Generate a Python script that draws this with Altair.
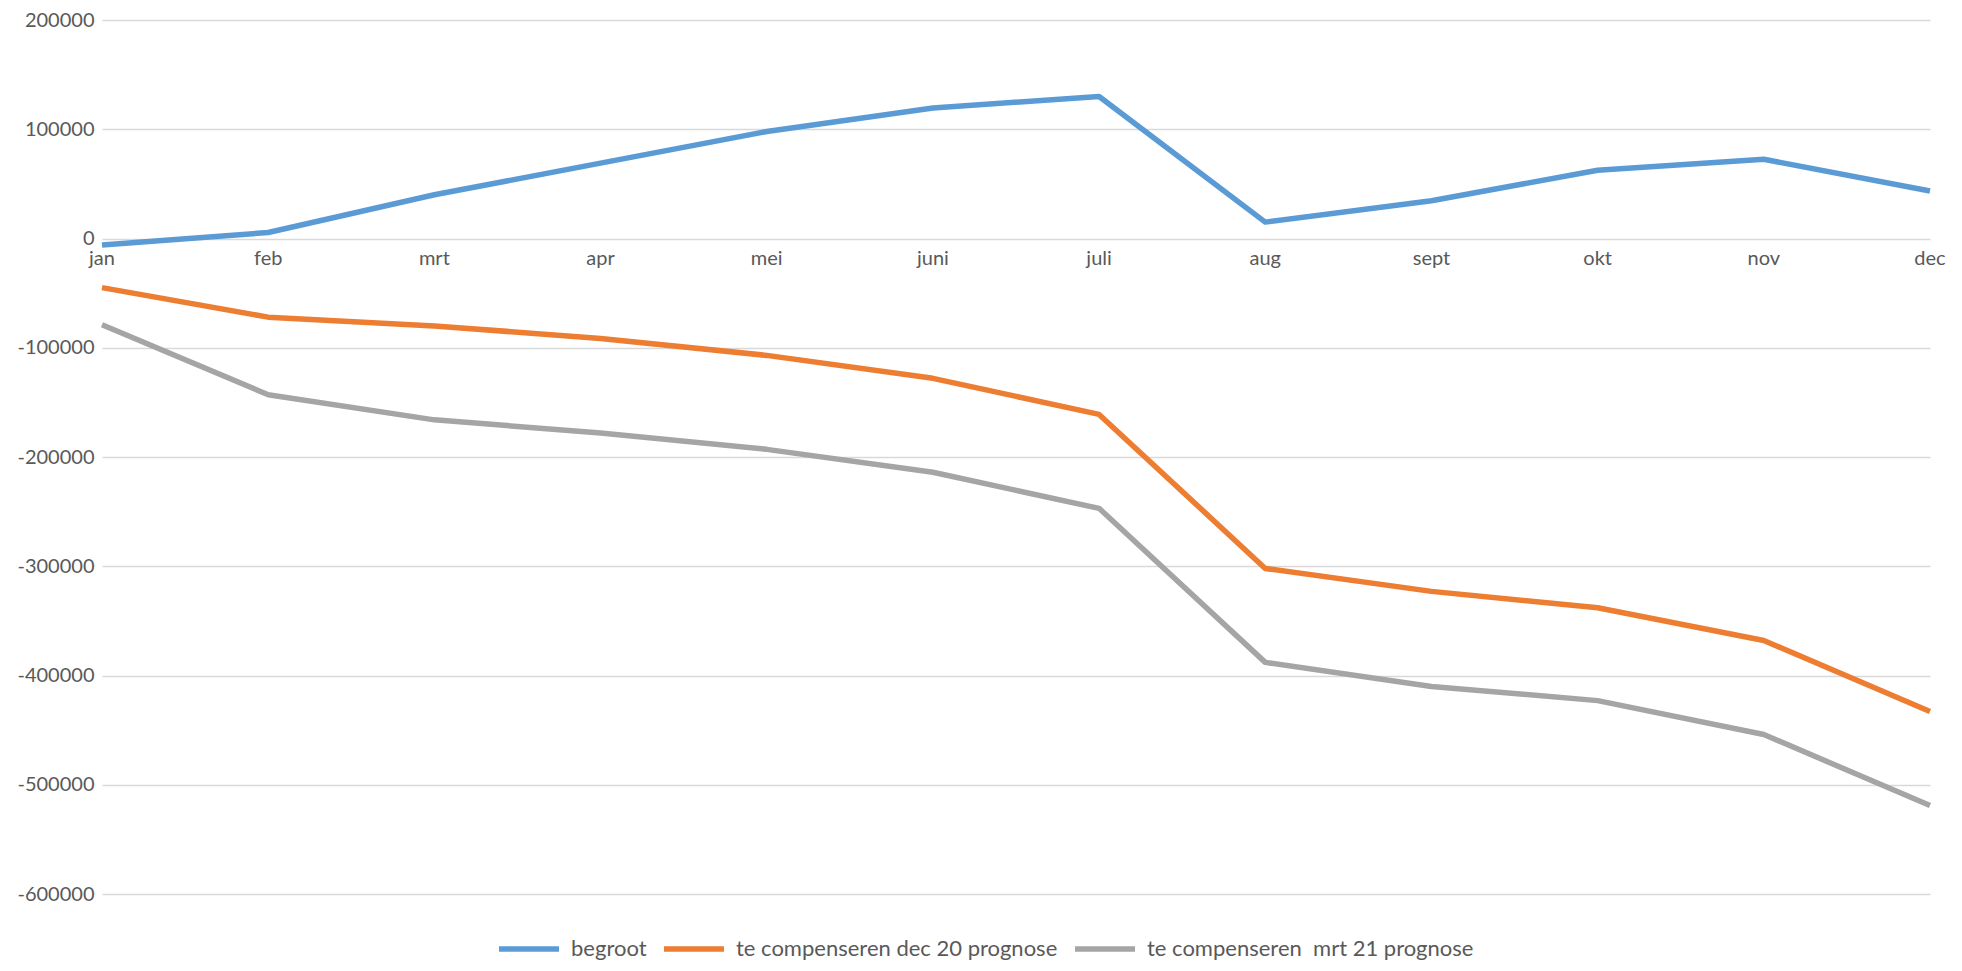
import altair as alt
import pandas as pd

months = ["jan", "feb", "mrt", "apr", "mei", "juni", "juli", "aug", "sept", "okt", "nov", "dec"]
series_names = ["begroot", "te compenseren dec 20 prognose", "te compenseren\u00a0 mrt 21 prognose"]
begroot = [-6000, 5500, 40000, 69000, 98000, 119500, 130000, 15000, 34500, 62500, 72500, 43500]
dec20 = [-45000, -72000, -80000, -91500, -107000, -128000, -161000, -302000, -323000, -338000, -368000, -433000]
mrt21 = [-79000, -143000, -166000, -178000, -193000, -214000, -247000, -388000, -410000, -423000, -454000, -519000]
colors = ["#5B9BD5", "#ED7D31", "#A5A5A5"]
y_ticks = [-600000, -500000, -400000, -300000, -200000, -100000, 0, 100000, 200000]

rows = []
for name, vals in zip(series_names, [begroot, dec20, mrt21]):
    for m, v in zip(months, vals):
        rows.append({"maand": m, "serie": name, "waarde": v})
df = pd.DataFrame(rows)
label_df = pd.DataFrame({"maand": months})

FONT = "Lato"
x_enc = alt.X("maand:N", sort=months, scale=alt.Scale(type="point", padding=0), axis=None)

lines = alt.Chart(df).mark_line(strokeWidth=5.5, strokeJoin="round", strokeCap="butt").encode(
    x=x_enc,
    y=alt.Y(
        "waarde:Q",
        scale=alt.Scale(domain=[-600000, 200000], nice=False, zero=False),
        axis=alt.Axis(
            values=y_ticks,
            title=None,
            domain=False,
            ticks=False,
            labelFont=FONT,
            labelFontSize=20,
            labelColor="#595959",
            labelPadding=8,
            labelExpr="'' + datum.value",
            gridColor="#d9d9d9",
            gridWidth=1.5,
        ),
    ),
    color=alt.Color(
        "serie:N",
        scale=alt.Scale(domain=series_names, range=colors),
        sort=series_names,
        legend=alt.Legend(
            title=None,
            orient="none",
            legendX=394,
            legendY=896,
            direction="horizontal",
            symbolType="stroke",
            symbolSize=3600,
            symbolStrokeWidth=5.5,
            labelFont=FONT,
            labelFontSize=22,
            labelColor="#595959",
            labelOffset=9,
            columnPadding=6,
            labelLimit=500,
        ),
    ),
)

labels = alt.Chart(label_df).mark_text(
    font=FONT, fontSize=20, color="#595959", baseline="alphabetic", dy=26
).encode(
    x=x_enc,
    y=alt.datum(0),
    text="maand:N",
)

chart = (
    alt.layer(lines, labels)
    .properties(
        width=1828,
        height=874,
        autosize=alt.AutoSizeParams(type="none"),
        padding={"left": 94, "top": 12, "right": 20, "bottom": 69},
    )
    .configure(background="white")
    .configure_view(stroke=None, strokeWidth=0)
)

chart.save("out.html", embed_options={"renderer": "svg", "actions": False})
